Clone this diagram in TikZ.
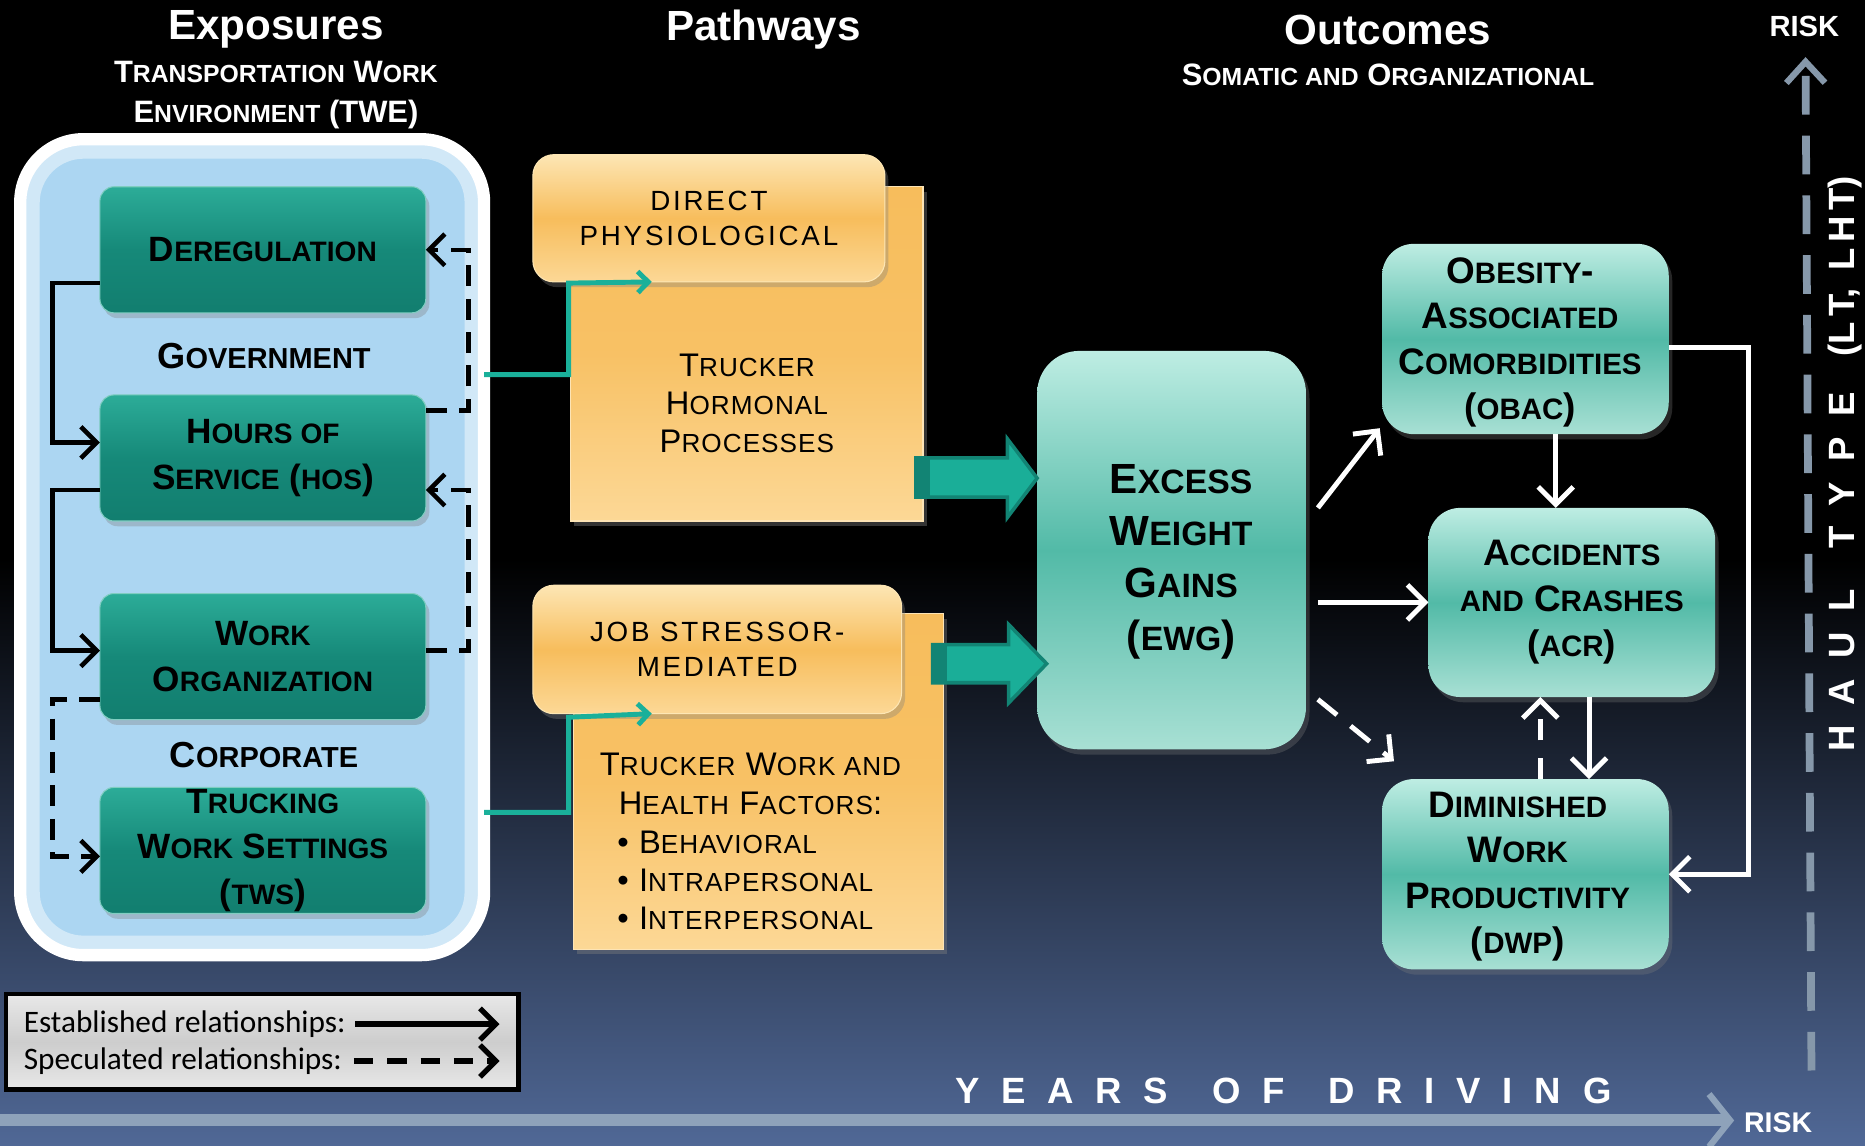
\documentclass[tikz,border=0pt]{standalone}
\usepackage{fontspec}
\setmainfont{Liberation Sans}
\newfontfamily\legendfont{Carlito}
\newfontfamily\pathwide[LetterSpace=10]{Liberation Sans}
\newfontfamily\pathnarrow[LetterSpace=4]{Liberation Sans}
\usetikzlibrary{arrows.meta,calc,shadows}

% faked small capitals: the argument is set at 80% of the running size
\makeatletter
\newcommand\Sc[1]{{\@tempdima=\f@size pt\@tempdima=0.8\@tempdima
  \fontsize{\strip@pt\@tempdima}{\f@baselineskip}\selectfont #1}}
\makeatother

\newdimen\px \px=0.33842pt

\definecolor{bgblue}{RGB}{80,104,150}
\definecolor{tealtop}{RGB}{44,172,152}
\definecolor{tealmid}{RGB}{22,137,121}
\definecolor{tealbot}{RGB}{18,126,111}
\definecolor{mintA}{RGB}{190,237,227}
\definecolor{mintB}{RGB}{82,186,167}
\definecolor{mintC}{RGB}{168,224,212}
\definecolor{orA}{RGB}{253,230,180}
\definecolor{orB}{RGB}{247,189,92}
\definecolor{orC}{RGB}{252,216,150}
\definecolor{panelblue}{RGB}{172,214,242}
\definecolor{linkteal}{RGB}{26,176,154}
\definecolor{arrowteal}{RGB}{26,174,152}
\definecolor{arrowedge}{RGB}{18,132,116}
\definecolor{axisgray}{RGB}{142,162,186}
\definecolor{haulgray}{RGB}{134,152,170}
\definecolor{legA}{RGB}{232,232,232}
\definecolor{legB}{RGB}{205,205,205}

\begin{document}
\begin{tikzpicture}[x=0.33842pt, y=-0.33842pt,
  every node/.style={inner sep=0pt, outer sep=0pt},
  titletext/.style={text=white, font=\fontsize{12}{14}\selectfont\bfseries},
  subtitletext/.style={text=white, align=center, font=\fontsize{8.8}{11.2}\selectfont\bfseries},
  expbox/.style={rounded corners=4pt, minimum width=274\px, minimum height=106\px,
    top color=tealtop, bottom color=tealbot, middle color=tealmid,
    draw=tealtop!60!white, line width=0.3pt, align=center, text=black,
    font=\fontsize{10}{12.9}\selectfont\bfseries,
    drop shadow={opacity=0.35, shadow xshift=1pt, shadow yshift=-1.5pt}},
  grouplabel/.style={text=black, font=\fontsize{10.3}{12}\selectfont\bfseries},
  outbox/.style={rounded corners=9pt, minimum width=241\px, minimum height=160\px,
    top color=mintA, bottom color=mintC, middle color=mintB,
    align=center, text=black, font=\fontsize{10.5}{12.9}\selectfont\bfseries,
    drop shadow={opacity=0.3, shadow xshift=1pt, shadow yshift=-1.5pt}},
  orback/.style={top color=orB, bottom color=orC, middle color=orB!85!orC,
    draw=orC!70!white, line width=0.3pt,
    drop shadow={opacity=0.4, shadow xshift=1pt, shadow yshift=-1.5pt}},
  orfront/.style={rounded corners=6pt, top color=orA, bottom color=orC, middle color=orB,
    draw=orA, line width=0.3pt, align=center, text=black,
    font=\pathwide\fontsize{7.9}{9.8}\selectfont,
    drop shadow={opacity=0.35, shadow xshift=1pt, shadow yshift=-1.5pt}},
  ortext/.style={align=center, text=black, font=\pathnarrow\fontsize{9.3}{10.85}\selectfont},
  estab/.style={black, line width=1.3pt, -{Straight Barb[length=4.5pt,width=9pt]}},
  spec/.style={estab, dash pattern=on 6pt off 3.5pt},
  whitelink/.style={white, line width=1.4pt, -{Straight Barb[length=5pt,width=10pt]}},
  whitespec/.style={whitelink, dash pattern=on 7pt off 5pt},
  teallink/.style={linkteal, line width=1.4pt, -{Straight Barb[length=3pt,width=6pt]}},
  blockarrow/.style={fill=arrowteal, draw=arrowedge, line width=1pt, line join=miter},
  axistext/.style={text=white, font=\fontsize{10.4}{12}\selectfont\bfseries},
  legendtext/.style={text=black, font=\legendfont\fontsize{8.9}{10}\selectfont}
]
\useasboundingbox (0,0) rectangle (1568,963);

% background: black top, fading into slate blue at the bottom
\fill[black] (0,0) rectangle (1568,963);
\shade[top color=black, bottom color=bgblue] (0,470) rectangle (1568,963);

% column headings
\node[titletext] (expT) at (232,25) {Exposures};
\node[subtitletext] (expS) at (232,80) {T\Sc{RANSPORTATION} W\Sc{ORK}\\E\Sc{NVIRONMENT} (TWE)};
\node[titletext] (pathT) at (642,25) {Pathways};
\node[titletext] (outT) at (1167,25) {Outcomes};
\node[subtitletext] (outS) at (1167,63) {S\Sc{OMATIC AND} O\Sc{RGANIZATIONAL}};

% exposure panel
\node[rounded corners=18pt, minimum width=390\px, minimum height=686\px,
  fill=panelblue, draw=white, line width=3.5pt] (twe) at (212,460) {};
\draw[white, opacity=0.45, line width=5pt, rounded corners=15pt]
  ($(twe.north west)+(9,9)$) rectangle ($(twe.south east)+(-9,-9)$);

\node[expbox] (dereg) at (221,210) {D\Sc{EREGULATION}};
\node[grouplabel] (gov) at (222,299) {G\Sc{OVERNMENT}};
\node[expbox] (hos) at (221,385) {H\Sc{OURS OF}\\S\Sc{ERVICE} (\Sc{HOS})};
\node[expbox] (wo) at (221,552) {W\Sc{ORK}\\O\Sc{RGANIZATION}};
\node[grouplabel] (corp) at (222,635) {C\Sc{ORPORATE}};
\node[expbox] (tws) at (221,715) {T\Sc{RUCKING}\\W\Sc{ORK} S\Sc{ETTINGS}\\(\Sc{TWS})};

% relationships among exposures
\draw[estab] (dereg.west |- 0,238) -- (44,238) -- (44,372) -- (hos.west |- 0,372);
\draw[estab] (hos.west |- 0,412) -- (44,412) -- (44,547) -- (wo.west |- 0,547);
\draw[spec] (wo.west |- 0,588) -- (44,588) -- (44,720) -- (tws.west |- 0,720);
\draw[spec] (hos.east |- 0,345) -- (394,345) -- (394,210) -- (dereg.east);
\draw[spec] (wo.east |- 0,547) -- (394,547) -- (394,412) -- (hos.east |- 0,412);

% pathways
\node[orback, minimum width=296\px, minimum height=281\px] (physback) at (628,297.5) {};
\node[orfront, minimum width=296\px, minimum height=107\px] (physfront) at (596,183.5) {DIRECT\\PHYSIOLOGICAL};
\node[ortext] (horm) at (628,339) {T\Sc{RUCKER}\\H\Sc{ORMONAL}\\P\Sc{ROCESSES}};

\node[orback, minimum width=311\px, minimum height=282\px] (stressback) at (637.5,657) {};
\node[orfront, minimum width=310\px, minimum height=108\px] (stressfront) at (603,546) {JOB STRESSOR-\\MEDIATED};
\node[ortext] (factors) at (631,659) {T\Sc{RUCKER} W\Sc{ORK AND}\\H\Sc{EALTH} F\Sc{ACTORS}:};
\node[ortext, anchor=west, align=left] (bullets) at (519,740)
  {• B\Sc{EHAVIORAL}\\• I\Sc{NTRAPERSONAL}\\• I\Sc{NTERPERSONAL}};

% exposures feed both pathways
\draw[teallink] (twe.east |- 0,315) -- (478,315) -- (478,238) -- (physfront.south -| 548,0);
\draw[teallink] (twe.east |- 0,683) -- (478,683) -- (478,603) -- (stressfront.south -| 548,0);

% outcomes
\node[outbox, rounded corners=12pt, minimum width=226\px, minimum height=335\px] (ewg) at (985,462.5) {};
\node[align=center, text=black, font=\fontsize{12}{14.9}\selectfont\bfseries] (ewgtext) at (993,472)
  {E\Sc{XCESS}\\W\Sc{EIGHT}\\G\Sc{AINS}\\(\Sc{EWG})};
\node[outbox] (obac) at (1282.5,285) {};
\node[align=center, text=black, font=\fontsize{10.5}{12.9}\selectfont\bfseries] (obactext) at (1278,288)
  {O\Sc{BESITY}-\\A\Sc{SSOCIATED}\\C\Sc{OMORBIDITIES}\\(\Sc{OBAC})};
\node[outbox, minimum height=159\px] (acr) at (1321.5,506.5) {A\Sc{CCIDENTS}\\\Sc{AND} C\Sc{RASHES}\\(\Sc{ACR})};
\node[outbox] (dwp) at (1282.5,735) {};
\node[align=center, text=black, font=\fontsize{10.5}{12.9}\selectfont\bfseries] (dwptext) at (1276,737)
  {D\Sc{IMINISHED}\\W\Sc{ORK}\\P\Sc{RODUCTIVITY}\\(\Sc{DWP})};

% block arrows from the pathways into weight gain
\draw[blockarrow] ($(physback.east |- 0,385)+(-6,0)$) -- (847,385) -- (847,369)
  -- (ewg.west |- 0,402) -- (847,435) -- (847,418) -- ($(physback.east |- 0,418)+(-6,0)$) -- cycle;
\fill[arrowedge] ($(physback.east |- 0,385)+(-6,0)$) rectangle ($(physback.east |- 0,418)+(6,0)$);
\draw[blockarrow] ($(stressback.east |- 0,542)+(-9,0)$) -- (848,542) -- (848,525)
  -- ($(ewg.west |- 0,558)+(8,0)$) -- (848,591) -- (848,574) -- ($(stressback.east |- 0,574)+(-9,0)$) -- cycle;
\fill[arrowedge] ($(stressback.east |- 0,542)+(-9,0)$) rectangle ($(stressback.east |- 0,574)+(3,0)$);

% relationships among outcomes
\draw[whitelink] ($(ewg.east |- 0,427)+(10,0)$) -- ($(obac.south west)+(-2,-5)$);
\draw[whitelink] ($(ewg.east |- acr.west)+(10,0)$) -- (acr.west);
\draw[whitespec] ($(ewg.east |- 0,588)+(10,0)$) -- ($(dwp.north west)+(10,-15)$);
\draw[whitelink] (obac.south -| 1308,0) -- (acr.north -| 1308,0);
\draw[whitelink] (acr.south -| 1336,0) -- (dwp.north -| 1336,0);
\draw[whitelink, dash pattern=on 6pt off 5pt] (dwp.north -| 1295,0) -- (acr.south -| 1295,0);
\draw[whitelink] (obac.east |- 0,292) -- (1470,292) -- (1470,735) -- (dwp.east);

% risk axes
\coordinate (vbase) at (1523,900);
\coordinate (vtip) at (1518,48);
\draw[haulgray, line width=2.2pt, dash pattern=on 11pt off 6pt,
  -{Straight Barb[length=6pt,width=11pt,line width=1.8pt]}] (vbase) -- (vtip);
\node[axistext, font=\fontsize{8.3}{10}\selectfont\bfseries] (riskV) at (1517,22) {RISK};
\node[axistext, rotate=90] (haul) at (1551,390)
  {\makebox[302\px][s]{H\hfill A\hfill U\hfill L\hfill\hfill T\hfill Y\hfill P\hfill E}\hspace{30\px}%
   \makebox[152\px][s]{(L\hfill T,\hfill\hfill\hfill L\hfill H\hfill T)}};

\coordinate (hbase) at (0,942);
\coordinate (htip) at (1458,942);
\draw[axisgray, line width=3.4pt,
  -{Straight Barb[length=6pt,width=15pt,line width=1.8pt]}] (hbase) -- (htip);
\node[axistext, font=\fontsize{8.1}{10}\selectfont\bfseries] (riskH) at (1495,944) {RISK};
\node[axistext] (years) at (1079,917)
  {\makebox[552\px][s]{Y\hfill E\hfill A\hfill R\hfill S\hfill\hfill O\hfill F\hfill\hfill D\hfill R\hfill I\hfill V\hfill I\hfill N\hfill G}};

% legend
\node[minimum width=431\px, minimum height=80\px, top color=legA, bottom color=legA,
  middle color=legB, draw=black, line width=1.2pt] (legend) at (220.5,876) {};
\node[legendtext, anchor=west] (estT) at (20,861) {Established relationships:};
\node[legendtext, anchor=west] (specT) at (20,892) {Speculated relationships:};
\draw[black, line width=1.5pt, -{Straight Barb[length=4.5pt,width=9pt]}]
  ($(estT.east)+(8,0)$) -- ($(legend.east |- estT.east)+(-16,0)$);
\draw[black, line width=1.5pt, dash pattern=on 5.5pt off 4pt, -{Straight Barb[length=4.5pt,width=9pt]}]
  ($(specT.east)+(10,0)$) -- ($(legend.east |- specT.east)+(-16,0)$);
\end{tikzpicture}
\end{document}
